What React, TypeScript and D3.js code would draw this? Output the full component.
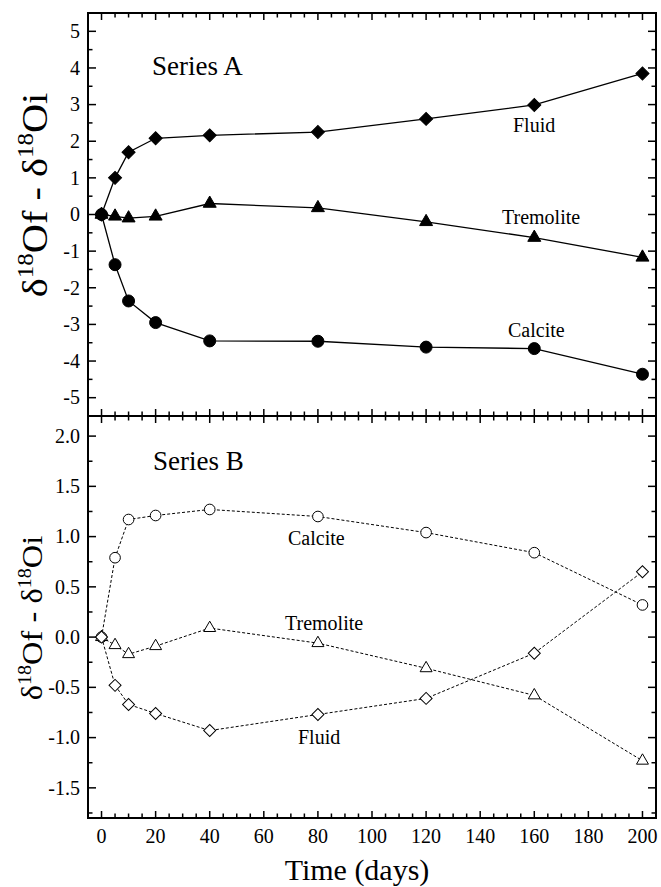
import React from "react";
import * as d3 from "d3";

// time points (days)
const days = [0, 5, 10, 20, 40, 80, 120, 160, 200];

// Series A (filled markers, solid lines)
const aFluid = [0, 1.0, 1.7, 2.08, 2.16, 2.25, 2.61, 2.99, 3.85];
const aTremolite = [0, -0.05, -0.1, -0.05, 0.3, 0.18, -0.2, -0.63, -1.17];
const aCalcite = [0, -1.37, -2.36, -2.95, -3.45, -3.46, -3.62, -3.66, -4.36];

// Series B (open markers, dashed lines)
const bCalcite = [0, 0.79, 1.17, 1.21, 1.27, 1.2, 1.04, 0.84, 0.32];
const bTremolite = [0, -0.08, -0.17, -0.09, 0.09, -0.06, -0.31, -0.58, -1.23];
const bFluid = [0, -0.48, -0.67, -0.76, -0.93, -0.77, -0.61, -0.16, 0.65];

const topTicks = [-5, -4, -3, -2, -1, 0, 1, 2, 3, 4, 5];
const bottomTicks = [-1.5, -1.0, -0.5, 0.0, 0.5, 1.0, 1.5, 2.0];
const xTicks = [0, 20, 40, 60, 80, 100, 120, 140, 160, 180, 200];

const W = 661;
const H = 887;
const left = 88;
const right = 656;
const top = 13;
const mid = 416;
const bottom = 818;

const FONT = "'Liberation Serif', 'Times New Roman', serif";

const x = d3.scaleLinear().domain([-5, 205]).range([left, right]);
const yA = d3.scaleLinear().domain([-5.5, 5.5]).range([mid, top]);
const yB = d3.scaleLinear().domain([-1.8, 2.2]).range([bottom, mid]);

const sym = (type: any, size: number) => d3.symbol().type(type).size(size)() as string;

function Series({ values, y, shape, size, open, rotate }: any) {
  const pts = days.map((d, i) => [x(d), y(values[i])] as [number, number]);
  const line = d3.line()(pts) as string;
  const path = sym(shape, size);
  return (
    <g>
      <path d={line} fill="none" stroke="#000" strokeWidth={open ? 1 : 1.3}
        strokeDasharray={open ? "3,2" : undefined} />
      {pts.map((p, i) => (
        <path key={i} d={path}
          transform={`translate(${p[0]},${p[1]})${rotate ? " rotate(45)" : ""}`}
          fill={open ? "#fff" : "#000"} stroke="#000" strokeWidth={1} />
      ))}
    </g>
  );
}

function YAxis({ y, ticks, minor, fmt }: any) {
  const [lo, hi] = y.domain();
  const minors = d3.range(Math.ceil(lo / minor) * minor, hi + 1e-9, minor);
  return (
    <g>
      {minors.map((v: number, i: number) => {
        const isMajor = ticks.some((t: number) => Math.abs(t - v) < 1e-6);
        const len = isMajor ? 8 : 4.5;
        return (
          <g key={i}>
            <line x1={left} x2={left + len} y1={y(v)} y2={y(v)} stroke="#000" strokeWidth={1.5} />
            <line x1={right} x2={right - len} y1={y(v)} y2={y(v)} stroke="#000" strokeWidth={1.5} />
          </g>
        );
      })}
      {ticks.map((t: number, i: number) => (
        <text key={i} x={80} y={y(t)} dy="0.34em" textAnchor="end" fontSize={20} fontFamily={FONT}>
          {fmt(t)}
        </text>
      ))}
    </g>
  );
}

function XTicks({ yPos, dir }: any) {
  const minors = d3.range(0, 201, 5);
  return (
    <g>
      {minors.map((v: number, i: number) => {
        const len = v % 20 === 0 ? 7 : 4.5;
        return (
          <line key={i} x1={x(v)} x2={x(v)} y1={yPos} y2={yPos + dir * len} stroke="#000" strokeWidth={1.5} />
        );
      })}
    </g>
  );
}

function YTitle({ cx, cy, size, stretch }: any) {
  return (
    <text transform={`translate(${cx},${cy}) rotate(-90) scale(${stretch},1)`} textAnchor="middle"
      fontSize={size} fontFamily={FONT}>
      δ<tspan fontSize={size * 0.62} dy={-size * 0.38}>18</tspan>
      <tspan dy={size * 0.38}>Of - δ</tspan>
      <tspan fontSize={size * 0.62} dy={-size * 0.38}>18</tspan>
      <tspan dy={size * 0.38}>Oi</tspan>
    </text>
  );
}

export default function App() {
  const label = (t: string, lx: number, ly: number, fs = 20) => (
    <text x={lx} y={ly} fontSize={fs} fontFamily={FONT}>{t}</text>
  );
  return (
    <svg width={W} height={H} style={{ position: "absolute", left: 0, top: 0, background: "#fff" }}>
      <rect x={0} y={0} width={W} height={H} fill="#fff" />

      {/* ticks */}
      <YAxis y={yA} ticks={topTicks} minor={0.5} fmt={(t: number) => String(t)} />
      <YAxis y={yB} ticks={bottomTicks} minor={0.25} fmt={(t: number) => t.toFixed(1)} />
      <XTicks yPos={top} dir={1} />
      <XTicks yPos={mid} dir={-1} />
      <XTicks yPos={mid} dir={1} />
      <XTicks yPos={bottom} dir={-1} />

      {/* frames */}
      <rect x={left} y={top} width={right - left} height={bottom - top} fill="none" stroke="#000" strokeWidth={2} />
      <line x1={left} x2={right} y1={mid} y2={mid} stroke="#000" strokeWidth={2} />

      {/* series A */}
      <Series values={aFluid} y={yA} shape={d3.symbolSquare} size={85} rotate />
      <Series values={aTremolite} y={yA} shape={d3.symbolTriangle} size={73} />
      <Series values={aCalcite} y={yA} shape={d3.symbolCircle} size={113} />

      {/* series B */}
      <Series values={bCalcite} y={yB} shape={d3.symbolCircle} size={89} open />
      <Series values={bTremolite} y={yB} shape={d3.symbolTriangle} size={62} open />
      <Series values={bFluid} y={yB} shape={d3.symbolSquare} size={72} open rotate />

      {/* labels */}
      {label("Series A", 152, 75, 27)}
      {label("Series B", 153, 470, 27)}
      {label("Fluid", 513, 132)}
      {label("Tremolite", 502, 224)}
      {label("Calcite", 508, 337)}
      {label("Calcite", 288, 545)}
      {label("Tremolite", 285, 630)}
      {label("Fluid", 298, 744)}

      {/* x tick labels */}
      {xTicks.map((t, i) => (
        <text key={i} x={x(t)} y={843} textAnchor="middle" fontSize={20} fontFamily={FONT}>{t}</text>
      ))}
      <text x={357} y={880} textAnchor="middle" fontSize={30} fontFamily={FONT}>Time (days)</text>

      <YTitle cx={47} cy={195} size={36} stretch={1.12} />
      <YTitle cx={42} cy={618} size={29} stretch={1.12} />
    </svg>
  );
}
